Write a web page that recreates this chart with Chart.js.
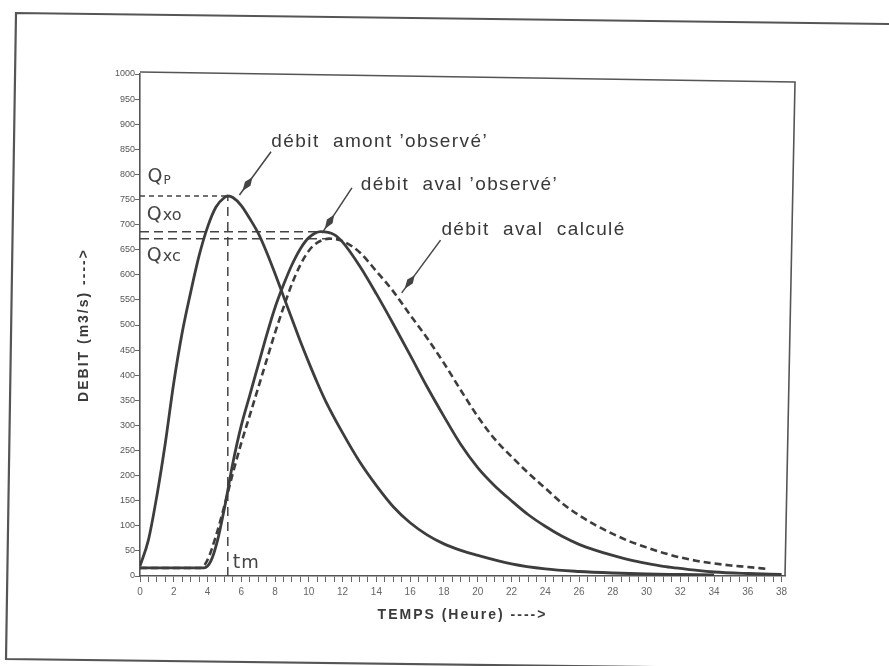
<!DOCTYPE html>
<html><head><meta charset="utf-8">
<script src="https://cdn.jsdelivr.net/npm/chart.js@4"></script>
<style>html,body{margin:0;padding:0;background:#fff;}#wrap{width:889px;height:666px;position:relative;}</style>
</head><body><div id="wrap"><canvas id="c" width="889" height="666"></canvas></div>
<script>
// ---- data (time in hours, discharge in m3/s) ----
const amontT = [0,0.5,1,1.5,2,2.5,3,3.5,4,4.5,5,5.2,5.5,6,6.5,7,7.5,8,8.5,9,9.5,10,10.5,11,12,13,14,15,16,17,18,19,20,22,24,26,28,30,32,34];
const amontQ = [20,72,160,265,385,485,565,638,695,735,754,757,754,738,712,683,645,602,557,512,467,425,385,348,285,228,180,138,106,82,64,51,41,24,14,9,6,4,3,2];
const avalT = [0,3.8,4.2,4.6,5,5.5,6,6.5,7,7.5,8,8.5,9,9.5,10,10.7,11.5,12,13,14,15,16,17,18,19,20,21,22,23,24,25,26,27,28,29,30,31,32,33,34,36,38];
const avalQ = [16,16,30,72,135,225,300,360,420,480,535,580,620,652,674,686,680,665,618,562,502,440,377,318,262,216,180,150,122,99,79,63,51,41,32,25,19,15,11,8,5,3];
const calcT = [0,3.6,4,4.5,5,5.5,6,6.5,7,7.5,8,8.5,9,9.5,10,10.5,11.2,12,13,14,15,16,17,18,19,20,21,22,23,24,25,26,27,28,29,30,31,32,33,34,35,36,37.2];
const calcQ = [16,16,32,80,140,205,265,320,375,430,485,535,582,620,648,664,672,667,645,607,567,520,474,424,370,318,273,238,205,175,145,121,101,84,69,57,46,37,30,25,21,18,14];

const Qp = 757, Qxo = 686, Qxc = 672, tm = 5.2;
const QxoEnd = 10.8, QxcEnd = 11.8;

const seriesNames = ['débit  amont ’observé’', 'débit  aval ’observé’', 'débit  aval  calculé'];
const labelT = [7.78, 13.08, 17.85];
const labelQ = [855, 769, 679];
const arrowFromT = [7.76, 12.55, 17.8];
const arrowFromQ = [845, 773, 669];
const arrowToT = [5.89, 10.78, 15.5];
const arrowToQ = [759, 683, 564];

const xTitle = 'TEMPS (Heure) ---->';
const yTitle = 'DEBIT (m3/s) ---->';
const xMin = 0, xMax = 38.2, xStep = 0.5, xLabelEvery = 2;
const yMin = 0, yMax = 1000, yStep = 50;

const pts = (T, Q) => T.map((t, i) => ({x: t, y: Q[i]}));
const ink = '#3d3d3d';

const decor = {
  id: 'decor',
  beforeDraw(chart) {
    const c = chart.ctx; c.save();
    c.fillStyle = '#fff'; c.fillRect(0, 0, chart.width, chart.height);
    // outer (scanned) page frame
    c.strokeStyle = '#555'; c.lineWidth = 2.2;
    c.beginPath(); c.moveTo(889, 24); c.lineTo(16, 13); c.lineTo(6, 659); c.lineTo(889, 670); c.stroke();
    c.restore();
  },
  afterDraw(chart) {
    const c = chart.ctx, xs = chart.scales.x, ys = chart.scales.y, a = chart.chartArea;
    c.save();
    // plot box top and right sides
    c.strokeStyle = '#555'; c.lineWidth = 1.6;
    c.beginPath(); c.moveTo(a.left, a.top - 2); c.lineTo(a.right + 10, a.top + 8); c.lineTo(a.right, a.bottom); c.stroke();
    // axis titles
    c.fillStyle = '#3a3a3a';
    c.font = 'bold 14px "Liberation Sans", Arial, sans-serif';
    try { c.letterSpacing = '2px'; } catch (e) {}
    c.textAlign = 'center'; c.textBaseline = 'middle';
    c.fillText(xTitle, (a.left + a.right) / 2, 615);
    c.save(); c.translate(84, (a.top + a.bottom) / 2); c.rotate(-Math.PI / 2); c.fillText(yTitle, 0, 0); c.restore();
    // series labels
    c.font = '19px "Liberation Sans", Arial, sans-serif';
    try { c.letterSpacing = '1.4px'; } catch (e) {}
    c.textAlign = 'left'; c.textBaseline = 'alphabetic'; c.fillStyle = '#383838';
    seriesNames.forEach((s, i) => c.fillText(s, xs.getPixelForValue(labelT[i]), ys.getPixelForValue(labelQ[i])));
    try { c.letterSpacing = '0px'; } catch (e) {}
    // arrows
    c.strokeStyle = '#444'; c.fillStyle = '#444'; c.lineWidth = 1.5;
    arrowFromT.forEach((t0, i) => {
      const x0 = xs.getPixelForValue(t0), y0 = ys.getPixelForValue(arrowFromQ[i]);
      const x1 = xs.getPixelForValue(arrowToT[i]), y1 = ys.getPixelForValue(arrowToQ[i]);
      c.beginPath(); c.moveTo(x0, y0); c.lineTo(x1, y1); c.stroke();
      const dx = x1 - x0, dy = y1 - y0, L = Math.hypot(dx, dy), ux = dx / L, uy = dy / L;
      const hx = x1 - ux * 5, hy = y1 - uy * 5;
      const bx = x1 - ux * 22, by = y1 - uy * 22;
      const mx = x1 - ux * 14, my = y1 - uy * 14;
      c.beginPath(); c.moveTo(hx, hy); c.lineTo(mx - uy * 3.4, my + ux * 3.4); c.lineTo(bx, by); c.lineTo(mx + uy * 3.4, my - ux * 3.4); c.closePath(); c.fill();
    });
    // handwritten-style guide labels
    c.fillStyle = '#444';
    const hand = (main, sub, t, q, subSize, subDy) => {
      const x = xs.getPixelForValue(t), y = ys.getPixelForValue(q);
      c.font = '19px "DejaVu Sans", sans-serif'; c.fillText(main, x, y);
      const w = c.measureText(main).width;
      c.font = subSize + 'px "DejaVu Sans", sans-serif'; c.fillText(sub, x + w + 1, y + subDy);
    };
    hand('Q', 'P', 0.45, 785, 12, 2);
    hand('Q', 'xo', 0.4, 709, 16, 0);
    hand('Q', 'xc', 0.4, 627, 16, 0);
    hand('t', 'm', 5.5, 16, 18, 0);
    c.restore();
  }
};

new Chart(document.getElementById('c'), {
  type: 'line',
  data: {
    datasets: [
      {data: pts(amontT, amontQ), borderColor: ink, borderWidth: 2.8},
      {data: pts(avalT, avalQ), borderColor: ink, borderWidth: 2.8},
      {data: pts(calcT, calcQ), borderColor: ink, borderWidth: 2.6, borderDash: [7, 4]},
      {data: [{x: xMin, y: Qp}, {x: tm, y: Qp}], borderColor: '#444', borderWidth: 1.5, borderDash: [5, 4], cubicInterpolationMode: 'default', tension: 0},
      {data: [{x: tm, y: yMin}, {x: tm, y: Qp}], borderColor: '#444', borderWidth: 1.5, borderDash: [9, 6], cubicInterpolationMode: 'default', tension: 0},
      {data: [{x: xMin, y: Qxo}, {x: QxoEnd, y: Qxo}], borderColor: '#444', borderWidth: 1.5, borderDash: [9, 5], cubicInterpolationMode: 'default', tension: 0},
      {data: [{x: xMin, y: Qxc}, {x: QxcEnd, y: Qxc}], borderColor: '#444', borderWidth: 1.5, borderDash: [9, 5], cubicInterpolationMode: 'default', tension: 0}
    ]
  },
  options: {
    responsive: false, animation: false,
    layout: {padding: {left: 0, top: 74, right: 104, bottom: 40}},
    elements: {point: {radius: 0}, line: {cubicInterpolationMode: 'monotone', fill: false}},
    plugins: {legend: {display: false}, tooltip: {enabled: false}},
    scales: {
      x: {
        type: 'linear', min: xMin, max: xMax,
        afterFit: s => { s.height = 50; },
        afterBuildTicks: s => { const t = []; for (let v = xMin; v <= 38 + 1e-9; v += xStep) t.push({value: v}); s.ticks = t; },
        border: {color: '#555', width: 1.6},
        grid: {drawOnChartArea: false, drawTicks: true, tickLength: 6, color: '#666', lineWidth: 1},
        ticks: {autoSkip: false, maxRotation: 0, padding: 4, color: '#666', font: {family: '"Liberation Sans", Arial, sans-serif', size: 10},
          callback: v => (Math.abs(v / xLabelEvery - Math.round(v / xLabelEvery)) < 1e-6 ? String(v) : '')}
      },
      y: {
        type: 'linear', min: yMin, max: yMax,
        afterFit: s => { s.width = 140; },
        border: {color: '#555', width: 1.6},
        grid: {drawOnChartArea: false, drawTicks: true, tickLength: 5, color: '#666', lineWidth: 1},
        ticks: {stepSize: yStep, padding: 0, color: '#555', font: {family: '"Liberation Sans", Arial, sans-serif', size: 9},
          callback: v => String(v)}
      }
    }
  },
  plugins: [decor]
});
</script></body></html>
